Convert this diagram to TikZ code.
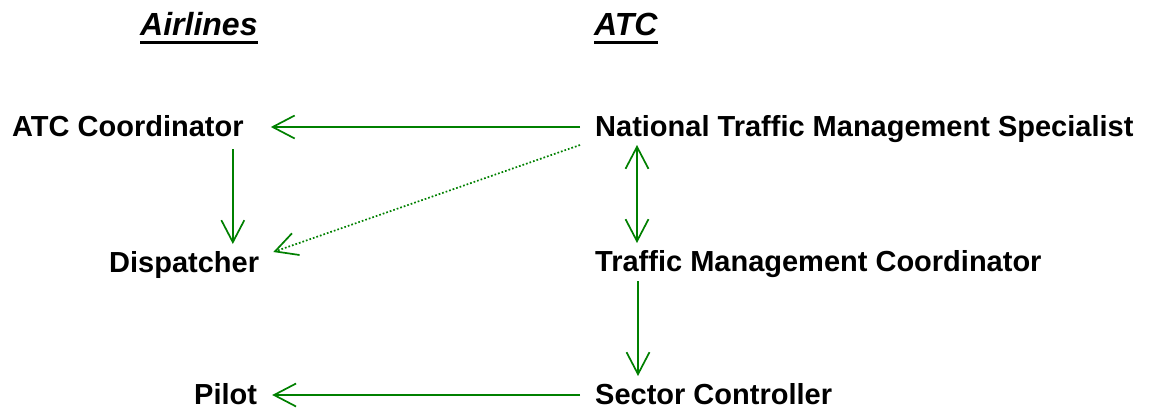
\documentclass[tikz,border=0pt]{standalone}
\usepackage{fontspec}
\setmainfont{Liberation Sans}
\usetikzlibrary{arrows.meta}
\definecolor{lnkgreen}{RGB}{0,128,0}
\begin{document}
\begin{tikzpicture}[x=1pt,y=-1pt,
  >={Straight Barb[length=22pt,width=23pt,line width=1.7pt]},
  lbl/.style={anchor=base west,inner sep=0pt,font=\fontsize{29}{34}\selectfont\bfseries},
  hdr/.style={anchor=base west,inner sep=0pt,font=\fontsize{32}{38}\selectfont\bfseries\itshape},
  link/.style={draw=lnkgreen,line width=1.7pt,->},
  hint/.style={link,dash pattern=on 1.7pt off 2pt},
  uline/.style={line width=3pt}]
\useasboundingbox (0,0) rectangle (1152,408);
\node[hdr] (air) at (140,35) {Airlines};
\node[hdr] (atchdr) at (594,35) {ATC};
\draw[uline] ([yshift=-7.5pt]air.base west) -- ([yshift=-7.5pt]air.base east);
\draw[uline] ([yshift=-7.5pt]atchdr.base west) -- ([yshift=-7.5pt]atchdr.base east);
\node[lbl] (atc) at (12,136) {ATC Coordinator};
\node[lbl] (nat) at (595,136) {National Traffic Management Specialist};
\node[lbl] (disp) at (109,272) {Dispatcher};
\node[lbl] (tmc) at (595,271) {Traffic Management Coordinator};
\node[lbl] (pil) at (194,404) {Pilot};
\node[lbl] (sec) at (595,404) {Sector Controller};
\draw[link] ([xshift=-15pt,yshift=9pt]nat.base west) -- ([xshift=27pt,yshift=9pt]atc.base east);
\draw[link] ([xshift=-11pt,yshift=-13pt]atc.base east) -- ++(0,95);
\draw[hint] ([xshift=-15pt,yshift=-9pt]nat.base west) -- ([xshift=14pt,yshift=20pt]disp.base east);
\draw[link,<->] ([xshift=42pt,yshift=-9pt]nat.base west) -- ([xshift=42pt,yshift=28pt]tmc.base west);
\draw[link] ([xshift=43pt,yshift=-10pt]tmc.base west) -- ([xshift=43pt,yshift=28pt]sec.base west);
\draw[link] ([xshift=-15pt,yshift=9pt]sec.base west) -- ([xshift=15pt,yshift=9pt]pil.base east);
\end{tikzpicture}
\end{document}
